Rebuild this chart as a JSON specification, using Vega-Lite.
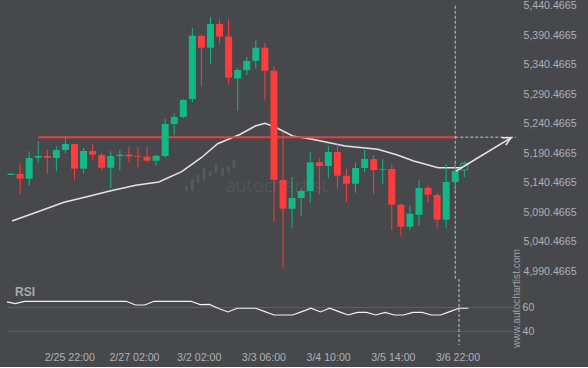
{
  "$schema": "https://vega.github.io/schema/vega-lite/v6.json",
  "background": "#46484c",
  "padding": {"left": 7, "top": 0, "right": 12, "bottom": 4},
  "spacing": 0,
  "bounds": "flush",
  "config": {
    "view": {"stroke": null},
    "axis": {"labelFont": "Liberation Sans", "labelFontSize": 10.6, "labelColor": "#aeb0b4", "domain": false, "ticks": false, "grid": false, "labelOverlap": false}
  },
  "datasets": {
    "candles": [
      {"i":0,"o":5153.7,"h":5156.2,"l":5153.3,"c":5155.9,"d":"up"},
      {"i":1,"o":5155.4,"h":5173.5,"l":5121.0,"c":5147.4,"d":"down"},
      {"i":2,"o":5147.4,"h":5193.9,"l":5136.2,"c":5182.5,"d":"up"},
      {"i":3,"o":5183.0,"h":5210.8,"l":5173.5,"c":5185.9,"d":"up"},
      {"i":4,"o":5185.9,"h":5197.2,"l":5154.9,"c":5183.0,"d":"down"},
      {"i":5,"o":5182.5,"h":5202.3,"l":5160.0,"c":5196.1,"d":"up"},
      {"i":6,"o":5196.1,"h":5217.6,"l":5190.5,"c":5206.2,"d":"up"},
      {"i":7,"o":5206.2,"h":5207.4,"l":5146.4,"c":5164.4,"d":"down"},
      {"i":8,"o":5164.4,"h":5199.5,"l":5156.6,"c":5194.4,"d":"up"},
      {"i":9,"o":5194.4,"h":5205.7,"l":5179.6,"c":5188.1,"d":"down"},
      {"i":10,"o":5187.6,"h":5191.5,"l":5161.7,"c":5166.1,"d":"down"},
      {"i":11,"o":5166.1,"h":5193.9,"l":5131.2,"c":5185.9,"d":"up"},
      {"i":12,"o":5185.9,"h":5196.1,"l":5161.7,"c":5188.1,"d":"up"},
      {"i":13,"o":5188.1,"h":5201.1,"l":5175.2,"c":5185.4,"d":"down"},
      {"i":14,"o":5186.4,"h":5201.1,"l":5166.7,"c":5184.7,"d":"down"},
      {"i":15,"o":5184.7,"h":5201.1,"l":5175.2,"c":5177.9,"d":"down"},
      {"i":16,"o":5177.9,"h":5187.6,"l":5170.1,"c":5186.4,"d":"up"},
      {"i":17,"o":5185.9,"h":5248.6,"l":5183.7,"c":5240.1,"d":"up"},
      {"i":18,"o":5240.1,"h":5258.7,"l":5221.0,"c":5252.0,"d":"up"},
      {"i":19,"o":5252.0,"h":5282.5,"l":5249.8,"c":5280.8,"d":"up"},
      {"i":20,"o":5282.5,"h":5402.8,"l":5276.9,"c":5389.7,"d":"up"},
      {"i":21,"o":5389.2,"h":5391.4,"l":5304.0,"c":5369.4,"d":"down"},
      {"i":22,"o":5369.4,"h":5421.4,"l":5341.3,"c":5409.5,"d":"up"},
      {"i":23,"o":5409.5,"h":5417.5,"l":5376.8,"c":5388.0,"d":"down"},
      {"i":24,"o":5388.0,"h":5417.5,"l":5307.4,"c":5318.6,"d":"down"},
      {"i":25,"o":5316.9,"h":5335.5,"l":5262.1,"c":5331.6,"d":"up"},
      {"i":26,"o":5331.6,"h":5353.6,"l":5323.1,"c":5346.9,"d":"up"},
      {"i":27,"o":5346.9,"h":5381.9,"l":5333.8,"c":5369.4,"d":"up"},
      {"i":28,"o":5369.4,"h":5376.8,"l":5280.3,"c":5330.4,"d":"down"},
      {"i":29,"o":5330.4,"h":5337.9,"l":5073.6,"c":5145.7,"d":"down"},
      {"i":30,"o":5145.2,"h":5227.1,"l":4996.6,"c":5096.6,"d":"down"},
      {"i":31,"o":5096.6,"h":5149.8,"l":5064.4,"c":5114.7,"d":"up"},
      {"i":32,"o":5114.7,"h":5131.2,"l":5084.2,"c":5126.6,"d":"up"},
      {"i":33,"o":5126.6,"h":5192.7,"l":5105.8,"c":5175.2,"d":"up"},
      {"i":34,"o":5175.2,"h":5182.0,"l":5121.0,"c":5168.9,"d":"down"},
      {"i":35,"o":5168.9,"h":5202.8,"l":5148.1,"c":5192.7,"d":"up"},
      {"i":36,"o":5192.7,"h":5205.7,"l":5131.2,"c":5152.5,"d":"down"},
      {"i":37,"o":5152.5,"h":5164.4,"l":5108.5,"c":5139.0,"d":"down"},
      {"i":38,"o":5139.0,"h":5174.0,"l":5123.7,"c":5165.6,"d":"up"},
      {"i":39,"o":5165.6,"h":5196.1,"l":5158.8,"c":5180.8,"d":"up"},
      {"i":40,"o":5180.8,"h":5187.6,"l":5121.0,"c":5162.2,"d":"down"},
      {"i":41,"o":5162.2,"h":5180.8,"l":5138.0,"c":5163.4,"d":"up"},
      {"i":42,"o":5163.9,"h":5171.8,"l":5060.0,"c":5103.4,"d":"down"},
      {"i":43,"o":5103.4,"h":5105.1,"l":5050.8,"c":5066.1,"d":"down"},
      {"i":44,"o":5066.1,"h":5102.9,"l":5060.0,"c":5088.1,"d":"up"},
      {"i":45,"o":5086.4,"h":5144.7,"l":5067.3,"c":5131.7,"d":"up"},
      {"i":46,"o":5131.7,"h":5136.8,"l":5106.3,"c":5120.3,"d":"down"},
      {"i":47,"o":5119.8,"h":5123.2,"l":5063.4,"c":5078.0,"d":"down"},
      {"i":48,"o":5078.0,"h":5171.8,"l":5064.4,"c":5141.8,"d":"up"},
      {"i":49,"o":5141.8,"h":5173.5,"l":5126.6,"c":5160.5,"d":"up"},
      {"i":50,"o":5162.2,"h":5177.4,"l":5150.3,"c":5173.5,"d":"up"}
    ],
    "ma": [
      {"i":0.1,"p":5075.8},{"i":2.95,"p":5091.5},{"i":5.84,"p":5107.4},{"i":8.36,"p":5116.9},
      {"i":10.89,"p":5126.6},{"i":13.76,"p":5136.2},{"i":16.3,"p":5141.8},{"i":18.82,"p":5159.3},
      {"i":20.25,"p":5175.2},{"i":20.98,"p":5183.0},{"i":22.79,"p":5206.7},{"i":25.3,"p":5222.7},
      {"i":26.93,"p":5236.7},{"i":28.01,"p":5241.3},{"i":29.28,"p":5233.8},{"i":31.07,"p":5219.8},
      {"i":33.23,"p":5214.2},{"i":36.85,"p":5202.8},{"i":40.45,"p":5197.2},{"i":42.61,"p":5187.6},
      {"i":44.42,"p":5177.4},{"i":47.12,"p":5166.1},{"i":49.83,"p":5166.1}
    ],
    "rsi": [
      {"i":0,"r":64.7},{"i":1,"r":63.1},{"i":2,"r":65},{"i":3,"r":65},{"i":4,"r":65},{"i":5,"r":65},
      {"i":6,"r":65},{"i":7,"r":65},{"i":8,"r":65},{"i":9,"r":65},{"i":10,"r":65},{"i":11,"r":65},
      {"i":12,"r":65},{"i":13,"r":65},{"i":14,"r":61.9},{"i":15,"r":61.9},{"i":16,"r":65},{"i":17,"r":65},
      {"i":18,"r":65},{"i":19,"r":65},{"i":20,"r":65},{"i":21,"r":62.2},{"i":22,"r":62.4},{"i":23,"r":59},
      {"i":24,"r":56.1},{"i":25,"r":59.2},{"i":26,"r":59.2},{"i":27,"r":59.2},{"i":28,"r":56.4},{"i":29,"r":53.6},
      {"i":30,"r":53.6},{"i":31,"r":53.6},{"i":32,"r":56.4},{"i":33,"r":59.2},{"i":34,"r":56.1},{"i":35,"r":59.2},
      {"i":36,"r":56.4},{"i":37,"r":53.6},{"i":38,"r":55.8},{"i":39,"r":55.8},{"i":40,"r":53.6},{"i":41,"r":55.8},
      {"i":42,"r":53.6},{"i":43,"r":53.6},{"i":44,"r":55.8},{"i":45,"r":55.8},{"i":46,"r":53.6},{"i":47,"r":53.6},
      {"i":48,"r":56.4},{"i":49,"r":59.2},{"i":50,"r":59.2}
    ],
    "logo": [
      {"i":19.2,"i2":19.5,"p":5135.1,"p2":5126.6},
      {"i":19.85,"i2":20.15,"p":5146.9,"p2":5126.6},
      {"i":20.47,"i2":20.77,"p":5155.4,"p2":5140.7},
      {"i":21.12,"i2":21.42,"p":5166.1,"p2":5143.5},
      {"i":21.83,"i2":22.13,"p":5160.5,"p2":5152.0},
      {"i":22.45,"i2":22.75,"p":5171.8,"p2":5157.6},
      {"i":23.18,"i2":23.48,"p":5166.1,"p2":5152.0},
      {"i":23.83,"i2":24.13,"p":5168.9,"p2":5157.6},
      {"i":24.43,"i2":24.73,"p":5180.3,"p2":5166.1}
    ]
  },
  "vconcat": [
    {
      "width": 514,
      "height": 278,
      "layer": [
        {
          "data": {"name": "logo"},
          "mark": {"type": "rect", "color": "#56595d", "cornerRadius": 1},
          "encoding": {
            "x": {"field": "i", "type": "quantitative", "scale": {"domain": [0.103, 55.7], "nice": false, "zero": false}, "axis": null},
            "x2": {"field": "i2"},
            "y": {"field": "p", "type": "quantitative", "scale": {"domain": [4977.5, 5448.5], "nice": false, "zero": false}, "title": null},
            "y2": {"field": "p2"}
          }
        },
        {
          "data": {"values": [{"i": 29.27, "p": 5135.1, "t": "autochartist"}]},
          "mark": {"type": "text", "font": "Open Sans", "fontWeight": 300, "fontSize": 19, "color": "#575a5e", "align": "center", "baseline": "middle"},
          "encoding": {
            "x": {"field": "i", "type": "quantitative", "scale": {"domain": [0.103, 55.7], "nice": false, "zero": false}, "axis": null},
            "y": {"field": "p", "type": "quantitative", "scale": {"domain": [4977.5, 5448.5], "nice": false, "zero": false}, "title": null},
            "text": {"field": "t"}
          }
        },
        {
          "data": {"name": "ma"},
          "mark": {"type": "line", "color": "#e4e4e4", "strokeWidth": 1.5, "clip": true},
          "encoding": {
            "x": {"field": "i", "type": "quantitative", "scale": {"domain": [0.103, 55.7], "nice": false, "zero": false}, "axis": null},
            "y": {"field": "p", "type": "quantitative", "scale": {"domain": [4977.5, 5448.5], "nice": false, "zero": false}, "title": null}
          }
        },
        {
          "data": {"values": [{"i": 3, "i2": 49, "p": 5217.8}]},
          "mark": {"type": "rule", "color": "#f03c3c", "strokeWidth": 2},
          "encoding": {
            "x": {"field": "i", "type": "quantitative", "scale": {"domain": [0.103, 55.7], "nice": false, "zero": false}, "axis": null},
            "x2": {"field": "i2"},
            "y": {"field": "p", "type": "quantitative", "scale": {"domain": [4977.5, 5448.5], "nice": false, "zero": false}, "title": null}
          }
        },
        {
          "data": {"values": [{"i": 49, "i2": 55.7, "p": 5217.8}]},
          "mark": {"type": "rule", "color": "#c4c6c8", "strokeWidth": 1, "strokeDash": [3, 2]},
          "encoding": {
            "x": {"field": "i", "type": "quantitative", "scale": {"domain": [0.103, 55.7], "nice": false, "zero": false}, "axis": null},
            "x2": {"field": "i2"},
            "y": {"field": "p", "type": "quantitative", "scale": {"domain": [4977.5, 5448.5], "nice": false, "zero": false}, "title": null}
          }
        },
        {
          "data": {"values": [{"i": 49, "p": 5440.5, "p2": 4977.5}]},
          "mark": {"type": "rule", "color": "#c4c6c8", "strokeWidth": 1, "strokeDash": [3, 2]},
          "encoding": {
            "x": {"field": "i", "type": "quantitative", "scale": {"domain": [0.103, 55.7], "nice": false, "zero": false}, "axis": null},
            "y": {"field": "p", "type": "quantitative", "scale": {"domain": [4977.5, 5448.5], "nice": false, "zero": false}, "title": null},
            "y2": {"field": "p2"}
          }
        },
        {
          "data": {"name": "candles"},
          "mark": {"type": "rule", "strokeWidth": 1, "clip": true},
          "encoding": {
            "x": {"field": "i", "type": "quantitative", "scale": {"domain": [0.103, 55.7], "nice": false, "zero": false}, "axis": null},
            "y": {"field": "l", "type": "quantitative", "scale": {"domain": [4977.5, 5448.5], "nice": false, "zero": false},
                  "axis": {"orient": "right", "values": [4990.4665, 5040.4665, 5090.4665, 5140.4665, 5190.4665, 5240.4665, 5290.4665, 5340.4665, 5390.4665, 5440.4665], "tickCount": 30, "format": ",.4f", "labelPadding": 2, "labelOverlap": false}, "title": null},
            "y2": {"field": "h"},
            "color": {"field": "d", "type": "nominal", "scale": {"domain": ["up", "down"], "range": ["#14b886", "#fd3c3c"]}, "legend": null}
          }
        },
        {
          "data": {"name": "candles"},
          "transform": [{"filter": "datum.i < 50"}],
          "mark": {"type": "bar", "size": 7, "clip": true},
          "encoding": {
            "x": {"field": "i", "type": "quantitative", "scale": {"domain": [0.103, 55.7], "nice": false, "zero": false}, "axis": null},
            "y": {"field": "o", "type": "quantitative", "scale": {"domain": [4977.5, 5448.5], "nice": false, "zero": false}, "title": null},
            "y2": {"field": "c"},
            "color": {"field": "d", "type": "nominal", "scale": {"domain": ["up", "down"], "range": ["#14b886", "#fd3c3c"]}, "legend": null}
          }
        },
        {
          "data": {"name": "candles"},
          "transform": [{"filter": "datum.i == 50"}],
          "mark": {"type": "bar", "size": 7, "fill": "#46484c", "stroke": "#14b886", "strokeWidth": 1},
          "encoding": {
            "x": {"field": "i", "type": "quantitative", "scale": {"domain": [0.103, 55.7], "nice": false, "zero": false}, "axis": null},
            "y": {"field": "o", "type": "quantitative", "scale": {"domain": [4977.5, 5448.5], "nice": false, "zero": false}, "title": null},
            "y2": {"field": "c"}
          }
        },
        {
          "data": {"values": [{"i": 49.1, "p": 5160.5, "i2": 55.16, "p2": 5216.9}]},
          "mark": {"type": "rule", "color": "#e8e8e8", "strokeWidth": 1.5},
          "encoding": {
            "x": {"field": "i", "type": "quantitative", "scale": {"domain": [0.103, 55.7], "nice": false, "zero": false}, "axis": null},
            "x2": {"field": "i2"},
            "y": {"field": "p", "type": "quantitative", "scale": {"domain": [4977.5, 5448.5], "nice": false, "zero": false}, "title": null},
            "y2": {"field": "p2"}
          }
        },
        {
          "data": {"values": [{"i": 54.15, "p": 5216.9, "k": 0}, {"i": 55.16, "p": 5216.9, "k": 1}, {"i": 54.58, "p": 5204.5, "k": 2}]},
          "mark": {"type": "line", "color": "#e8e8e8", "strokeWidth": 1.5},
          "encoding": {
            "x": {"field": "i", "type": "quantitative", "scale": {"domain": [0.103, 55.7], "nice": false, "zero": false}, "axis": null},
            "y": {"field": "p", "type": "quantitative", "scale": {"domain": [4977.5, 5448.5], "nice": false, "zero": false}, "title": null},
            "order": {"field": "k", "type": "quantitative"}
          }
        }
      ]
    },
    {
      "width": 506,
      "height": 66,
      "layer": [
        {
          "data": {"name": "rsi"},
          "mark": {"type": "line", "color": "#f2f2f2", "strokeWidth": 1.2, "clip": true},
          "encoding": {
            "x": {"field": "i", "type": "quantitative", "scale": {"domain": [0.103, 54.837], "nice": false, "zero": false},
                  "axis": {"values": [7, 14, 21, 28, 35, 42, 49], "tickCount": 30, "labelExpr": "['2/25 22:00','2/27 02:00','3/2 02:00','3/3 06:00','3/4 10:00','3/5 14:00','3/6 22:00'][round(datum.value/7)-1]", "labelOffset": -1.5, "labelPadding": 7, "title": null}},
            "y": {"field": "r", "type": "quantitative", "scale": {"domain": [28.58, 83.58], "nice": false, "zero": false},
                  "axis": {"orient": "right", "values": [40, 60], "grid": true, "gridColor": "#5c5e62", "gridWidth": 1, "labelPadding": 9,
                           "title": "www.autochartist.com",
                           "titleAngle": 270, "titleX": 3, "titleY": 19, "titleAlign": "center", "titleBaseline": "middle",
                           "titleFont": "Liberation Sans", "titleFontSize": 10.2, "titleFontWeight": "normal", "titleColor": "#9c9ea2"}}
          }
        },
        {
          "data": {"values": [{"i": 0.97, "r": 72.75, "t": "RSI"}]},
          "mark": {"type": "text", "font": "Liberation Sans", "fontWeight": "bold", "fontSize": 12, "color": "#a8aab0", "align": "left", "baseline": "middle"},
          "encoding": {
            "x": {"field": "i", "type": "quantitative", "scale": {"domain": [0.103, 54.837], "nice": false, "zero": false}},
            "y": {"field": "r", "type": "quantitative", "scale": {"domain": [28.58, 83.58], "nice": false, "zero": false}},
            "text": {"field": "t"}
          }
        },
        {
          "data": {"values": [{"i": 49}]},
          "mark": {"type": "rule", "color": "#c4c6c8", "strokeWidth": 1, "strokeDash": [3, 2]},
          "encoding": {
            "x": {"field": "i", "type": "quantitative", "scale": {"domain": [0.103, 54.837], "nice": false, "zero": false}}
          }
        }
      ]
    }
  ]
}
